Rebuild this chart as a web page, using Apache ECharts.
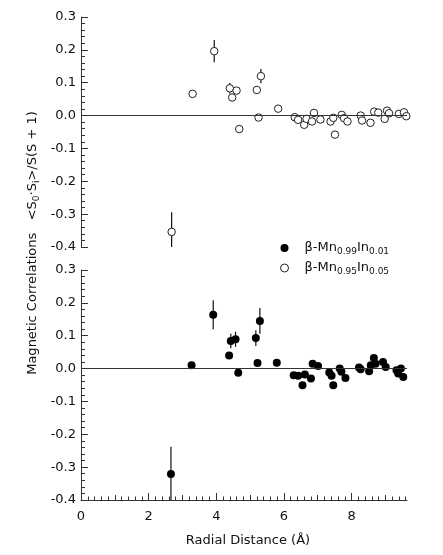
<!DOCTYPE html>
<html>
<head>
<meta charset="utf-8">
<script src="https://cdn.jsdelivr.net/npm/echarts@6/dist/echarts.min.js"></script>
<style>
html, body { margin: 0; padding: 0; background: #fff; }
#main { width: 443px; height: 555px; }
</style>
</head>
<body>
<div id="main"></div>
<script>
// β-Mn0.95In0.05 (open circles, upper panel)
var x05 = [2.68, 3.30, 3.94, 4.40, 4.47, 4.60, 4.68, 5.20, 5.25, 5.32, 5.83,
	6.32, 6.42, 6.60, 6.67, 6.83, 6.89, 7.08, 7.38, 7.46, 7.51, 7.71, 7.78, 7.88,
	8.27, 8.31, 8.56, 8.67, 8.79, 8.98, 9.05, 9.11, 9.40, 9.55, 9.62];
var y05 = [-0.354, 0.066, 0.196, 0.083, 0.055, 0.076, -0.041, 0.078, -0.006, 0.120, 0.021,
	-0.005, -0.013, -0.028, -0.010, -0.018, 0.008, -0.012, -0.018, -0.007, -0.058, 0.002, -0.008, -0.018,
	0.000, -0.015, -0.022, 0.012, 0.009, -0.010, 0.015, 0.007, 0.005, 0.010, -0.002];
var e05 = [0.06, 0, 0.034, 0.016, 0, 0, 0, 0, 0, 0.022, 0,
	0, 0, 0, 0, 0, 0, 0, 0, 0, 0, 0, 0, 0,
	0, 0, 0, 0, 0, 0, 0, 0, 0, 0, 0];

// β-Mn0.99In0.01 (filled circles, lower panel)
var x01 = [2.66, 3.27, 3.91, 4.38, 4.43, 4.57, 4.65, 5.17, 5.22, 5.29, 5.79,
	6.29, 6.42, 6.55, 6.62, 6.80, 6.85, 7.01, 7.34, 7.41, 7.46, 7.65, 7.70, 7.82,
	8.22, 8.27, 8.52, 8.57, 8.66, 8.71, 8.93, 9.01, 9.33, 9.38, 9.46, 9.53];
var y01 = [-0.321, 0.010, 0.164, 0.040, 0.084, 0.089, -0.013, 0.093, 0.017, 0.145, 0.018,
	-0.020, -0.022, -0.051, -0.018, -0.030, 0.015, 0.008, -0.012, -0.022, -0.051, 0.000, -0.010, -0.029,
	0.003, -0.002, -0.008, 0.010, 0.032, 0.015, 0.020, 0.005, -0.005, -0.015, 0.000, -0.026];
var e01 = [0.083, 0, 0.044, 0, 0.022, 0.023, 0, 0.024, 0, 0.039, 0,
	0, 0, 0, 0, 0, 0, 0, 0, 0, 0, 0, 0, 0,
	0, 0, 0, 0, 0, 0, 0, 0, 0, 0, 0, 0];

var name01 = 'β-Mn0.99In0.01';
var name05 = 'β-Mn0.95In0.05';
var xLabels = [0, 2, 4, 6, 8];
var xMid = [0, 1, 2, 3, 4, 5, 6, 7, 8, 9];
var yMin = -0.4, yMax = 0.3, xMax = 9.64;

var FONT = 'DejaVu Sans';
var AX = '#333';

function pairs(xs, ys) {
	var out = [];
	for (var i = 0; i < xs.length; i++) out.push([xs[i], ys[i]]);
	return out;
}
function errPoints(xs, ys, es) {
	var out = [];
	for (var i = 0; i < xs.length; i++) {
		if (es[i] > 0) out.push([xs[i], ys[i], es[i]]);
	}
	return out;
}
// minor ticks every 0.2
var xMinor = [];
for (var k = 0; k <= 48; k++) xMinor.push(Math.round(k * 2) / 10);

function errRender(params, api) {
	var x = api.value(0), y = api.value(1), e = api.value(2);
	var lo = api.coord([x, Math.max(y - e, yMin)]);
	var hi = api.coord([x, Math.min(y + e, yMax)]);
	return {
		type: 'line',
		shape: { x1: lo[0], y1: lo[1], x2: hi[0], y2: hi[1] },
		style: { stroke: '#111', lineWidth: 1.2 }
	};
}

function yAxisFor(gi) {
	return {
		type: 'value', gridIndex: gi, min: yMin, max: yMax, interval: 0.1,
		axisLine: { show: true, lineStyle: { color: AX, width: 1 } },
		axisTick: { show: true, inside: true, length: 7, lineStyle: { color: AX } },
		minorTick: { show: true, splitNumber: 5, length: 4, lineStyle: { color: AX } },
		splitLine: { show: false },
		axisLabel: {
			color: '#111', fontFamily: FONT, fontSize: 13, margin: 5,
			formatter: function (v) { return v.toFixed(1); }
		}
	};
}

function tickAxis(values, len, showLabel, showLine) {
	return {
		type: 'value', gridIndex: 1, min: 0, max: xMax, position: 'bottom', offset: 0,
		axisLine: { show: showLine, onZero: false, lineStyle: { color: AX, width: 1 } },
		axisTick: { show: true, inside: true, length: len, customValues: values, lineStyle: { color: AX } },
		axisLabel: {
			show: showLabel, customValues: values, color: '#111', fontFamily: FONT, fontSize: 13, margin: 10,
			formatter: function (v) { return String(v); }
		},
		splitLine: { show: false }
	};
}

var zeroLine = {
	symbol: 'none', silent: true,
	label: { show: false },
	lineStyle: { color: AX, width: 1.2, type: 'solid' },
	data: [{ yAxis: 0 }]
};

var chart = echarts.init(document.getElementById('main'));
var option = {
	animation: false,
	backgroundColor: '#fff',
	grid: [
		{ left: 81, top: 17, width: 326, height: 230 },
		{ left: 81, top: 270, width: 326, height: 230 }
	],
	xAxis: [
		{
			type: 'value', gridIndex: 0, min: 0, max: xMax,
			axisLine: { show: false }, axisTick: { show: false },
			axisLabel: { show: false }, splitLine: { show: false }
		},
		tickAxis(xLabels, 7, true, true),
		tickAxis(xMid, 5, false, false),
		tickAxis(xMinor, 3.5, false, false)
	],
	yAxis: [yAxisFor(0), yAxisFor(1)],
	legend: {
		orient: 'vertical', left: 275, top: 236,
		itemWidth: 30, itemHeight: 8, itemGap: 5,
		data: [
			{ name: name01, itemStyle: { color: '#000', borderWidth: 0 } },
			{ name: name05, itemStyle: { color: '#fff', borderColor: '#222', borderWidth: 1 } }
		],
		formatter: function (n) {
			var m = n.match(/β-Mn([\d.]+)In([\d.]+)/);
			return '{n|β-Mn}{s|' + m[1] + '}{n|In}{s|' + m[2] + '}';
		},
		textStyle: {
			color: '#111',
			rich: {
				n: { fontFamily: FONT, fontSize: 13, lineHeight: 16 },
				s: { fontFamily: FONT, fontSize: 9, lineHeight: 16, verticalAlign: 'bottom', padding: [6, 0, 0, 0] }
			}
		}
	},
	graphic: [
		{
			type: 'text', x: 33, y: 243, rotation: Math.PI / 2,
			style: {
				text: '{n|Magnetic Correlations   <S}{s|0}{n|·S}{s|i}{n|>/S(S + 1)}',
				x: 0, y: 0, textAlign: 'center', textVerticalAlign: 'middle',
				rich: {
					n: { fontFamily: FONT, fontSize: 13, lineHeight: 16, fill: '#111' },
					s: { fontFamily: FONT, fontSize: 9, lineHeight: 16, verticalAlign: 'bottom', padding: [6, 0, 0, 0], fill: '#111' }
				}
			}
		},
		{
			type: 'text', x: 248, y: 541,
			style: {
				text: 'Radial Distance (Å)', textAlign: 'center', textVerticalAlign: 'middle',
				fontFamily: FONT, fontSize: 13, fill: '#111'
			}
		}
	],
	series: [
		{
			type: 'custom', xAxisIndex: 0, yAxisIndex: 0, z: 1,
			renderItem: errRender, data: errPoints(x05, y05, e05),
			markLine: zeroLine
		},
		{
			type: 'custom', xAxisIndex: 1, yAxisIndex: 1, z: 1,
			renderItem: errRender, data: errPoints(x01, y01, e01),
			markLine: zeroLine
		},
		{
			name: name05, type: 'scatter', xAxisIndex: 0, yAxisIndex: 0, z: 3,
			symbol: 'circle', symbolSize: 7.5,
			itemStyle: { color: '#fff', borderColor: '#222', borderWidth: 1, opacity: 1 },
			data: pairs(x05, y05)
		},
		{
			name: name01, type: 'scatter', xAxisIndex: 1, yAxisIndex: 1, z: 3,
			symbol: 'circle', symbolSize: 8,
			itemStyle: { color: '#000', opacity: 1 },
			data: pairs(x01, y01)
		}
	]
};
chart.setOption(option);
</script>
</body>
</html>
